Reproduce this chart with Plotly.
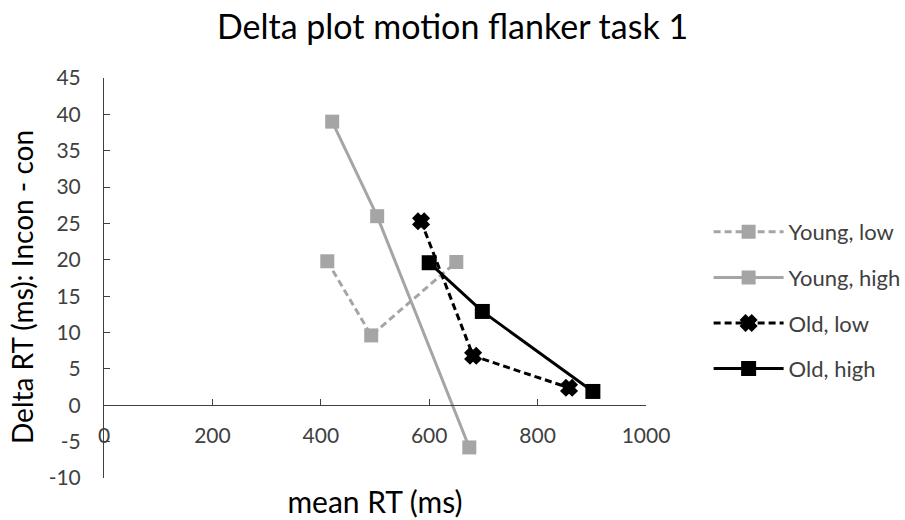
import plotly.graph_objects as go

series_names = ["Young, low", "Young, high", "Old, low", "Old, high"]
young_low_x = [412, 493, 650]
young_low_y = [19.8, 9.6, 19.7]
young_high_x = [421, 504, 674]
young_high_y = [39.0, 26.0, -5.8]
old_low_x = [585, 681, 858]
old_low_y = [25.3, 6.8, 2.4]
old_high_x = [600, 698, 902]
old_high_y = [19.6, 12.9, 1.9]

x_ticks = [0, 200, 400, 600, 800, 1000]
y_ticks = [-10, -5, 0, 5, 10, 15, 20, 25, 30, 35, 40, 45]
y_tick_text = [str(v) for v in y_ticks]

GREY = "#A5A5A5"
BLACK = "#000000"
FONT = "Lato, 'Open Sans', sans-serif"

fig = go.Figure()
styles = [
    (young_low_x, young_low_y, GREY, "7px,4px", "square", 14, 0),
    (young_high_x, young_high_y, GREY, "solid", "square", 14, 0),
    (old_low_x, old_low_y, BLACK, "7px,4px", "x", 11, 4),
    (old_high_x, old_high_y, BLACK, "solid", "square", 15, 0),
]
for name, (xs, ys, col, dash, sym, msize, mlw) in zip(series_names, styles):
    fig.add_trace(go.Scatter(
        x=xs, y=ys, name=name, mode="lines+markers",
        legendgroup=name,
        line=dict(color=col, width=3, dash=dash),
        marker=dict(symbol=sym, size=msize, color=col,
                    line=dict(color=col, width=mlw)),
    ))

fig.update_layout(
    width=905, height=520,
    margin=dict(l=104, r=259, t=78, b=42, autoexpand=False),
    paper_bgcolor="white", plot_bgcolor="white",
    font=dict(family=FONT, color="#404040", size=21),
    title=dict(text="Delta plot motion flanker task 1", x=0.5, xref="container",
               y=1 - 27 / 520, yref="container", yanchor="middle",
               font=dict(size=34, color="#000000", family=FONT)),
    showlegend=True,
    legend=dict(xref="container", yref="container", x=0.783, y=1 - 211 / 520,
                xanchor="left", yanchor="top", tracegroupgap=14,
                itemwidth=70, font=dict(size=22, color="#404040"),
                bgcolor="rgba(0,0,0,0)"),
    xaxis=dict(range=[0, 1000], tickvals=x_ticks, ticks="inside", ticklen=6,
               tickcolor="#404040", showline=True, linecolor="#404040", linewidth=1,
               showgrid=False, zeroline=False, anchor="free", position=10 / 55,
               ticklabelstandoff=12, automargin=False,
               title=dict(text="mean RT (ms)", font=dict(size=30, color="#000000"),
                          standoff=45)),
    yaxis=dict(range=[-10, 45], tickvals=y_ticks, ticktext=y_tick_text,
               ticks="inside", ticklen=6, automargin=False,
               tickcolor="#404040", showline=True, linecolor="#404040", linewidth=1,
               showgrid=False, zeroline=False, ticklabelstandoff=18),
    annotations=[dict(text="Delta RT (ms): Incon - con", textangle=-90,
                      xref="paper", yref="paper", x=(22 - 104) / 542,
                      y=(478 - 287) / 400, xanchor="center", yanchor="middle",
                      showarrow=False, font=dict(size=28, color="#000000"))],
)

fig.write_html("out.html")
